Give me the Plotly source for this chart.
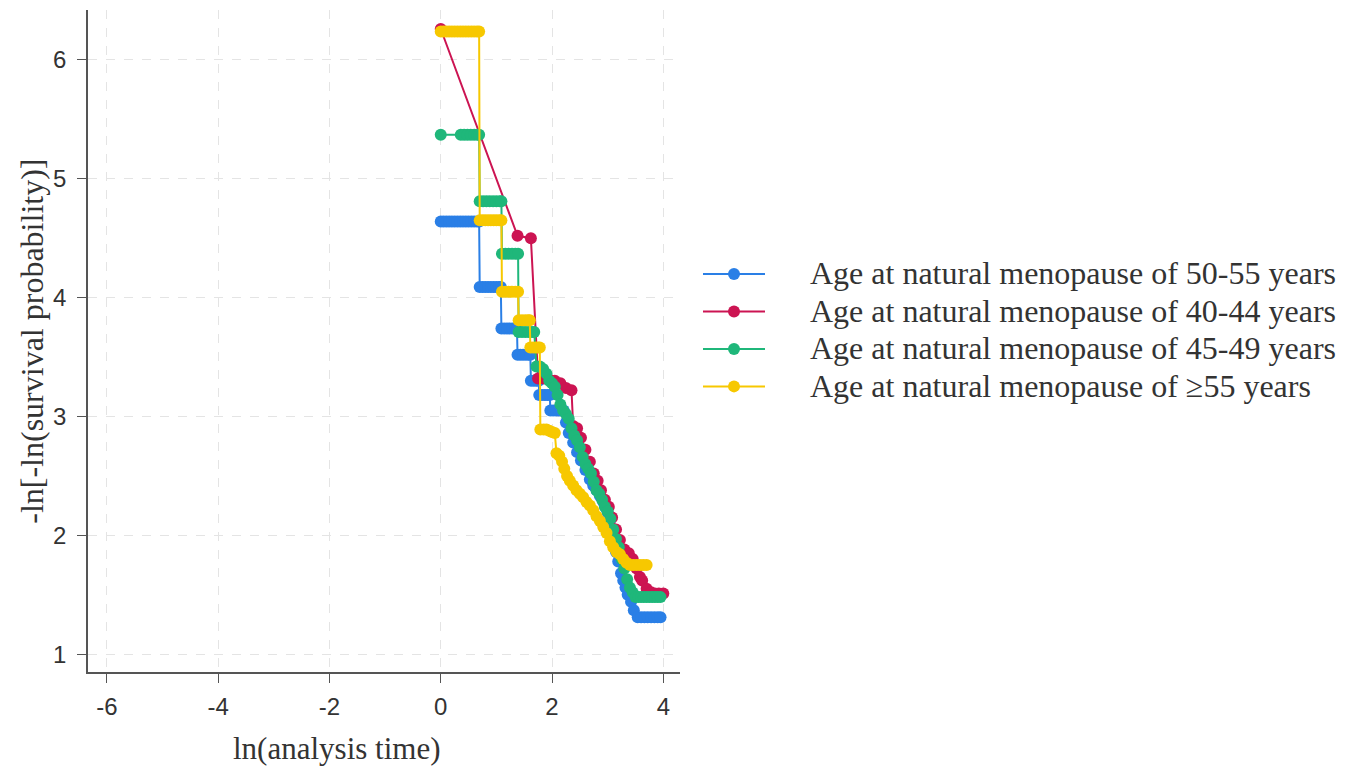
import plotly.graph_objects as go

# ---------------- data ----------------
names = [
    "Age at natural menopause of 50-55 years",
    "Age at natural menopause of 40-44 years",
    "Age at natural menopause of 45-49 years",
    "Age at natural menopause of \u226555 years",
]
colors = ["#2a7fe6", "#cc1452", "#1fb77a", "#f7c800"]

blue_x = [0.00, 0.05, 0.10, 0.15, 0.20, 0.25, 0.30, 0.35, 0.40, 0.45, 0.50, 0.55, 0.60, 0.65, 0.69,
          0.70, 0.75, 0.80, 0.85, 0.90, 0.95, 1.00, 1.05, 1.08,
          1.09, 1.14, 1.19, 1.24, 1.29, 1.34, 1.37,
          1.38, 1.43, 1.48, 1.53, 1.58, 1.61,
          1.62, 1.67, 1.72, 1.76,
          1.77, 1.82, 1.87, 1.92, 1.96,
          1.97, 2.02, 2.07, 2.12, 2.17, 2.21,
          2.25, 2.30, 2.38, 2.45, 2.52, 2.60, 2.68, 2.74, 2.80, 2.86, 2.92, 2.97, 3.00, 3.04,
          3.08, 3.11, 3.15, 3.19, 3.24, 3.28, 3.32, 3.36, 3.42, 3.47,
          3.54, 3.60, 3.66, 3.72, 3.78, 3.84, 3.90, 3.95]
blue_y = [4.64] * 15 + \
         [4.09] * 9 + \
         [3.74] * 7 + \
         [3.52] * 6 + \
         [3.30] * 4 + \
         [3.18] * 5 + \
         [3.05] * 6 + \
         [2.95, 2.86, 2.78, 2.70, 2.63, 2.55, 2.47, 2.42, 2.38, 2.33, 2.28, 2.23, 2.19, 2.12,
          2.04, 1.95, 1.86, 1.78, 1.68, 1.62, 1.56, 1.50, 1.44, 1.37] + \
         [1.31] * 8

red_x = [0.00, 1.38, 1.62, 1.75, 1.85, 1.95, 2.05, 2.15, 2.25, 2.35,
         2.38, 2.45, 2.52, 2.60, 2.68, 2.75, 2.82, 2.88, 2.95, 3.02, 3.08, 3.15, 3.22,
         3.30, 3.38, 3.45, 3.52, 3.58, 3.62, 3.70, 3.78, 3.85, 3.92, 4.00]
red_y = [6.26, 4.52, 4.50, 3.32, 3.32, 3.31, 3.30, 3.28, 3.24, 3.22,
         2.92, 2.90, 2.82, 2.72, 2.62, 2.52, 2.46, 2.38, 2.30, 2.24, 2.15, 2.05, 1.96,
         1.88, 1.85, 1.80, 1.72, 1.65, 1.62, 1.55, 1.52, 1.51, 1.51, 1.51]

green_x = [0.00, 0.36, 0.42, 0.48, 0.54, 0.60, 0.66, 0.69,
           0.70, 0.76, 0.82, 0.88, 0.94, 1.00, 1.06, 1.09,
           1.10, 1.16, 1.22, 1.28, 1.34, 1.39,
           1.40, 1.46, 1.52, 1.58, 1.64, 1.68,
           1.72, 1.78, 1.84, 1.90, 1.95, 2.00, 2.05, 2.10, 2.15, 2.20, 2.25, 2.30, 2.35,
           2.40, 2.45, 2.50, 2.55, 2.60, 2.65, 2.70, 2.75, 2.80, 2.85, 2.90, 2.95, 3.00,
           3.05, 3.10, 3.15, 3.20, 3.25, 3.30, 3.35, 3.40, 3.45,
           3.50, 3.55, 3.60, 3.65, 3.70, 3.75, 3.80, 3.85, 3.90, 3.95]
green_y = [5.37] * 8 + \
          [4.81] * 8 + \
          [4.37] * 6 + \
          [3.71] * 6 + \
          [3.42, 3.42, 3.40, 3.36, 3.30, 3.28, 3.25, 3.18, 3.10, 3.05, 3.02, 2.98, 2.90,
           2.84, 2.80, 2.74, 2.66, 2.60, 2.56, 2.52, 2.45, 2.38, 2.35, 2.30, 2.24, 2.20,
           2.14, 2.05, 1.97, 1.90, 1.80, 1.72, 1.63, 1.56, 1.52] + \
          [1.48] * 10

yellow_x = [0.00, 0.05, 0.10, 0.15, 0.20, 0.25, 0.30, 0.35, 0.40, 0.45, 0.50, 0.55, 0.60, 0.65, 0.69,
            0.70, 0.75, 0.80, 0.85, 0.90, 0.95, 1.00, 1.05, 1.09,
            1.10, 1.16, 1.22, 1.28, 1.34, 1.39,
            1.40, 1.46, 1.52, 1.57, 1.60,
            1.61, 1.66, 1.71, 1.75, 1.78,
            1.79, 1.85, 1.90, 1.95, 2.00, 2.05,
            2.08, 2.13, 2.18, 2.22, 2.27, 2.32, 2.38, 2.44, 2.50, 2.56, 2.62, 2.68, 2.74,
            2.80, 2.86, 2.92, 2.98, 3.04, 3.10, 3.16, 3.22, 3.28, 3.34,
            3.40, 3.46, 3.52, 3.58, 3.64, 3.70]
yellow_y = [6.24] * 15 + \
           [4.65] * 9 + \
           [4.05] * 6 + \
           [3.81] * 5 + \
           [3.58] * 5 + \
           [2.89, 2.89, 2.89, 2.88, 2.87, 2.86] + \
           [2.69, 2.67, 2.62, 2.56, 2.50, 2.46, 2.42, 2.38, 2.35, 2.32, 2.28, 2.25, 2.21,
            2.16, 2.12, 2.07, 2.02, 1.95, 1.90, 1.86, 1.84, 1.80, 1.77] + \
           [1.75] * 6

series_x = [blue_x, red_x, green_x, yellow_x]
series_y = [blue_y, red_y, green_y, yellow_y]

x_ticks = [-6, -4, -2, 0, 2, 4]
x_ticktext = ["-6", "-4", "-2", "0", "2", "4"]
y_ticks = [1, 2, 3, 4, 5, 6]
y_ticktext = ["1", "2", "3", "4", "5", "6"]

x_title = "ln(analysis time)"
y_title = "-ln[-ln(survival probability)]"

SERIF = "Liberation Serif, Times New Roman, serif"
SANS = "Liberation Sans, Arial, sans-serif"
TXT = "#333333"

# ---------------- figure ----------------
fig = go.Figure()
for nm, col, xs, ys in zip(names, colors, series_x, series_y):
    label = '<span style="font-size:32px">\u00a0\u00a0\u00a0\u00a0\u00a0' + nm + '</span>'
    fig.add_trace(go.Scatter(
        x=xs, y=ys, name=label, mode="lines+markers",
        line=dict(color=col, width=2),
        marker=dict(color=col, size=12, line=dict(width=0)),
    ))

axis_common = dict(
    showline=True, linecolor="#555555", linewidth=1.5,
    ticks="outside", ticklen=9, tickwidth=1.3, tickcolor="#555555",
    showgrid=True, gridcolor="#e4e4e4", griddash="dash", gridwidth=1,
    zeroline=False, mirror=False, automargin=False,
    tickfont=dict(family=SANS, size=24, color=TXT),
)

# the page body adds an 8px offset, margins compensate for it
fig.update_layout(
    width=1355, height=771,
    margin=dict(l=80, r=683, t=2, b=107),
    paper_bgcolor="white", plot_bgcolor="white",
    xaxis=dict(range=[-6.34, 4.3], tickvals=x_ticks, ticktext=x_ticktext,
               ticklabelstandoff=3, **axis_common),
    yaxis=dict(range=[0.85, 6.42], tickvals=y_ticks, ticktext=y_ticktext,
               ticklabelstandoff=6, **axis_common),
    legend=dict(
        x=1.0304, xanchor="left", y=0.637, yanchor="top",
        font=dict(family=SERIF, size=26.5, color=TXT),
        itemwidth=62, tracegroupgap=0, bgcolor="rgba(0,0,0,0)",
    ),
    showlegend=True,
    annotations=[
        dict(text=x_title, xref="paper", yref="paper",
             x=0.42, y=-0.115, xanchor="center", yanchor="middle", showarrow=False,
             font=dict(family=SERIF, size=31, color=TXT)),
        dict(text=y_title, xref="paper", yref="paper", textangle=-90,
             x=-0.095, y=0.5, xanchor="center", yanchor="middle", showarrow=False,
             font=dict(family=SERIF, size=32, color=TXT)),
    ],
)

fig.write_html("out.html")
